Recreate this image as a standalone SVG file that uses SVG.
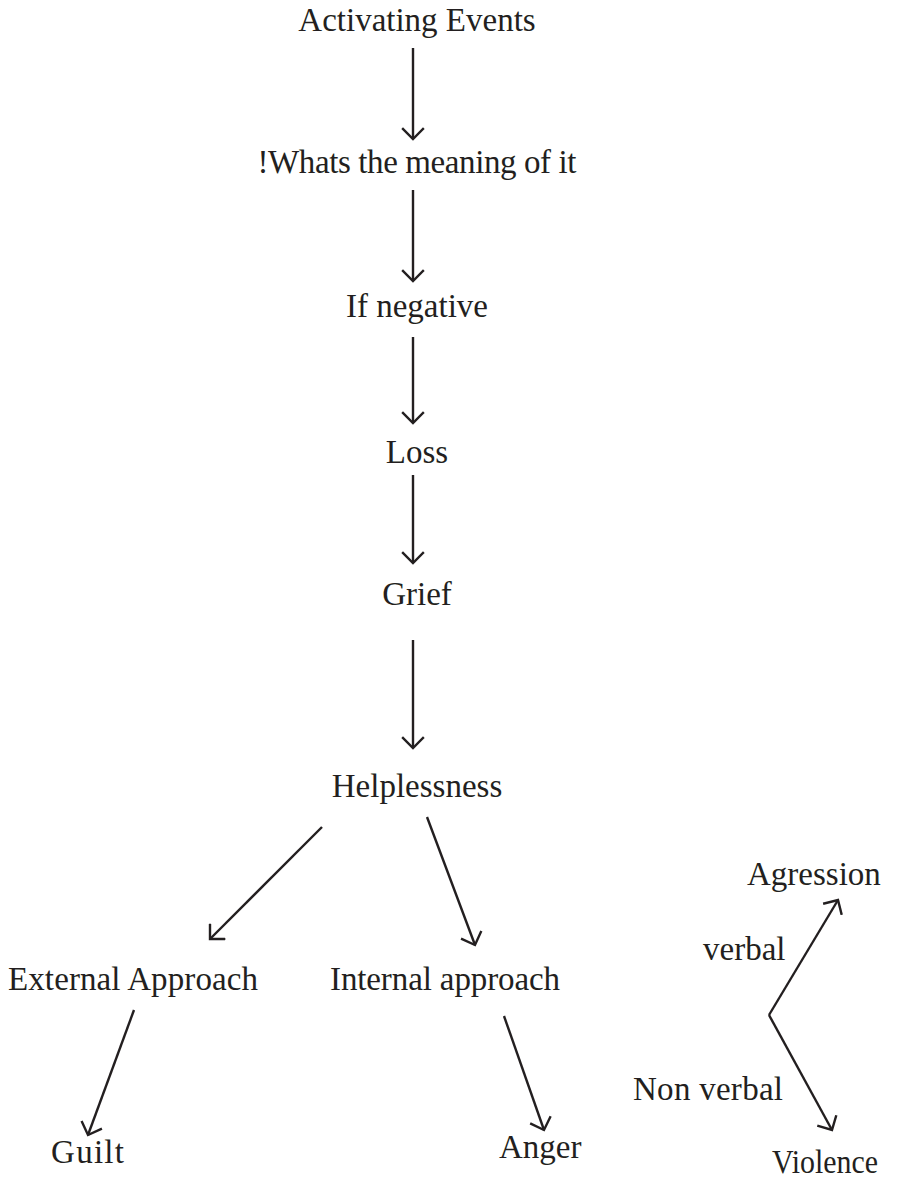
<svg xmlns="http://www.w3.org/2000/svg" width="899" height="1180" viewBox="0 0 899 1180">
<style>
text { font-family: "Liberation Serif", "Times New Roman", serif; font-size: 33px; fill: #231f20; }
.c { text-anchor: middle; }
.edge { stroke: #231f20; stroke-width: 2.4; fill: none; marker-end: url(#ah); }
</style>
<defs>
<marker id="ah" markerUnits="userSpaceOnUse" markerWidth="24" markerHeight="24" viewBox="-12 -12 24 24" refX="0" refY="0" orient="auto">
<path d="M-10,-10 L0,0 L-10,10" stroke="#231f20" stroke-width="2.4" fill="none" stroke-linecap="square"/>
</marker>
</defs>
<rect width="899" height="1180" fill="#ffffff"/>
<g id="connectors">
<line class="edge" x1="413" y1="48" x2="413" y2="139"/>
<line class="edge" x1="413" y1="190" x2="413" y2="281"/>
<line class="edge" x1="413" y1="337" x2="413" y2="423"/>
<line class="edge" x1="413" y1="475" x2="413" y2="563"/>
<line class="edge" x1="413" y1="640" x2="413" y2="748"/>
<line class="edge" x1="322" y1="827" x2="210" y2="939"/>
<line class="edge" x1="427" y1="817" x2="475" y2="945"/>
<line class="edge" x1="134" y1="1010" x2="88" y2="1135"/>
<line class="edge" x1="504" y1="1016" x2="544" y2="1130"/>
<line class="edge" x1="769" y1="1015" x2="838" y2="900"/>
<line class="edge" x1="769" y1="1015" x2="832" y2="1130"/>
</g>
<g id="activating"><text class="c" x="417" y="31">Activating Events</text></g>
<g id="meaning"><text class="c" x="417" y="173" textLength="319" lengthAdjust="spacing">!Whats the meaning of it</text></g>
<g id="negative"><text class="c" x="417" y="317">If negative</text></g>
<g id="loss"><text class="c" x="417" y="463">Loss</text></g>
<g id="grief"><text class="c" x="417" y="605">Grief</text></g>
<g id="helplessness"><text class="c" x="417" y="797">Helplessness</text></g>
<g id="external"><text x="8" y="990" textLength="250" lengthAdjust="spacing">External Approach</text></g>
<g id="internal"><text x="330" y="990" textLength="230" lengthAdjust="spacing">Internal approach</text></g>
<g id="guilt"><text x="51" y="1163" textLength="73" lengthAdjust="spacing">Guilt</text></g>
<g id="anger"><text x="499" y="1158">Anger</text></g>
<g id="agression"><text x="747" y="885">Agression</text></g>
<g id="verbal"><text x="703" y="960">verbal</text></g>
<g id="nonverbal"><text x="633" y="1100" textLength="150" lengthAdjust="spacing">Non verbal</text></g>
<g id="violence"><text x="772" y="1173" textLength="106" lengthAdjust="spacingAndGlyphs">Violence</text></g>
</svg>
